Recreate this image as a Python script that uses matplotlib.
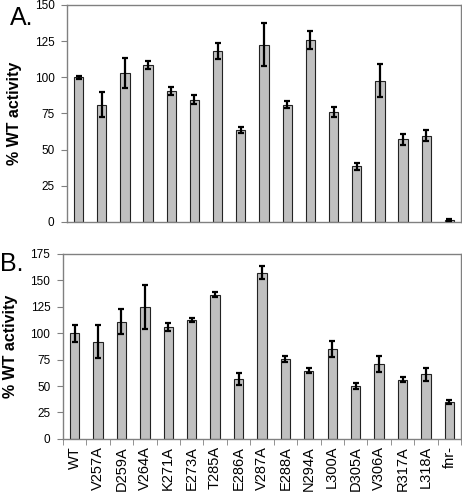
import numpy as np
import matplotlib
matplotlib.use('Agg')
import matplotlib.pyplot as plt

plt.rcParams['font.family'] = ['Liberation Sans', 'DejaVu Sans']

mutants = ['WT', 'V257A', 'D259A', 'V264A', 'K271A', 'E273A', 'T285A', 'E286A', 'V287A',
           'E288A', 'N294A', 'L300A', 'D305A', 'V306A', 'R317A', 'L318A', 'fnr-']

activity_a = [100, 81, 103, 108.5, 90.5, 84.4, 118.4, 63.3, 122.5,
              81, 126, 76.2, 38.3, 97.5, 57, 59.7, 1.4]
err_a = [1, 8.5, 10.5, 3, 3, 3, 5.5, 2, 14.8,
         2.5, 6.3, 3.4, 2.6, 11.5, 3.9, 4.1, 0.5]

activity_b = [100, 91.8, 111, 125, 106, 112.7, 136.4, 56.6, 157.3,
              75.6, 64.6, 84.8, 49.7, 70.9, 56, 61, 34.8]
err_b = [7.9, 15.7, 12.2, 21, 4, 2, 2.5, 5.5, 6,
         3.2, 2, 7.6, 2.7, 7.8, 2.2, 6, 2.2]

fig = plt.figure(figsize=(4.62, 4.92), dpi=100)
ax_a = fig.add_axes([0.145, 0.549, 0.853, 0.441])
ax_b = fig.add_axes([0.136, 0.108, 0.862, 0.376])

x = np.arange(len(mutants))


def draw_panel(ax, vals, errs, ymax):
    ax.bar(x, vals, width=0.4, color='#c0c0c0', edgecolor='#222222', linewidth=0.8, zorder=2)
    ax.errorbar(x, vals, yerr=errs, fmt='none', ecolor='black', elinewidth=1.6,
                capsize=2.5, capthick=1.6, zorder=3)
    ax.set_xlim(-0.5, len(mutants) - 0.5)
    ax.set_ylim(0, ymax)
    ax.set_yticks(np.arange(0, ymax + 1, 25))
    for s in ax.spines.values():
        s.set_color('#808080')
        s.set_linewidth(1)
    ax.tick_params(axis='y', direction='out', length=4, color='#808080', labelsize=8.5, pad=5)
    ax.set_ylabel('% WT activity', fontsize=11.5, fontweight='bold', labelpad=9)


draw_panel(ax_a, activity_a, err_a, 150)
ax_a.set_xticks([])

draw_panel(ax_b, activity_b, err_b, 175)
ax_b.set_xticks(x)
ax_b.set_xticklabels(mutants, rotation=90, fontsize=10.5)
ax_b.set_xticks(np.arange(-0.5, len(mutants), 1), minor=True)
ax_b.tick_params(axis='x', which='major', length=0, pad=5)
ax_b.tick_params(axis='x', which='minor', direction='out', length=4, color='#808080')

fig.text(0.022, 0.988, 'A.', fontsize=18, va='top', ha='left')
fig.text(0.0, 0.488, 'B.', fontsize=18, va='top', ha='left')

fig.savefig('out.png', dpi=100)
